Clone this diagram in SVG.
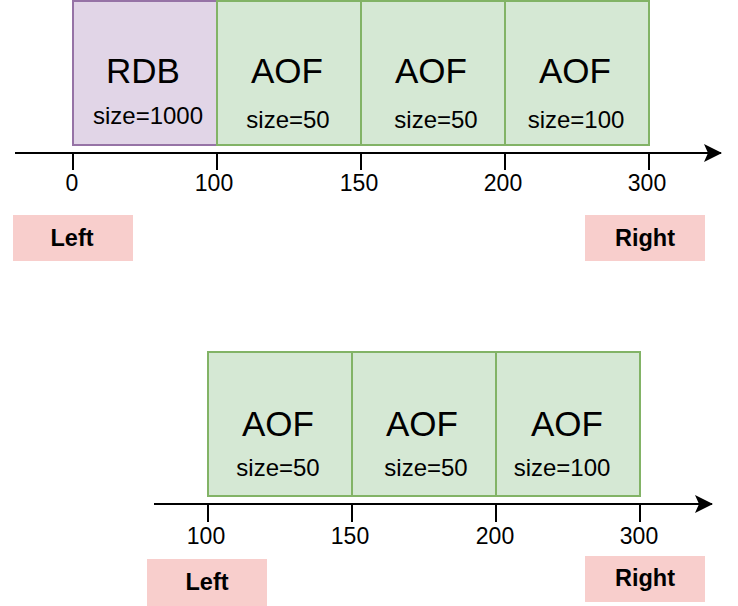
<svg xmlns="http://www.w3.org/2000/svg" width="738" height="606" viewBox="0 0 738 606">
<style>
.rdb{fill:#e1d5e7;stroke:#9673a6;stroke-width:2}
.aof{fill:#d5e8d4;stroke:#82b366;stroke-width:2}
.tag{fill:#f8cecc;stroke:none}
.big{font-family:"Liberation Sans",Arial,sans-serif;font-size:35px;fill:#000;text-anchor:middle}
.sm{font-family:"Liberation Sans",Arial,sans-serif;font-size:24px;fill:#000;text-anchor:middle}
.tk{font-family:"Liberation Sans",Arial,sans-serif;font-size:23px;fill:#000;text-anchor:middle}
.bold{font-family:"Liberation Sans",Arial,sans-serif;font-size:23.5px;font-weight:bold;fill:#000;text-anchor:middle}
.ax{stroke:#000;stroke-width:2;fill:none}
</style>
<defs>
<marker id="arr" viewBox="0 0 18 18" refX="17" refY="9" markerWidth="18" markerHeight="18" markerUnits="userSpaceOnUse" orient="auto">
<path d="M0,0 L18,9 L0,18 L4,9 Z" fill="#000"/>
</marker>
</defs>
<g id="connectors">
<line class="ax" x1="15" y1="153" x2="721" y2="153" marker-end="url(#arr)"/>
<line class="ax" x1="73" y1="153" x2="73" y2="170"/>
<line class="ax" x1="217" y1="153" x2="217" y2="170"/>
<line class="ax" x1="361" y1="153" x2="361" y2="170"/>
<line class="ax" x1="505" y1="153" x2="505" y2="170"/>
<line class="ax" x1="649" y1="153" x2="649" y2="170"/>
<line class="ax" x1="154" y1="504" x2="712" y2="504" marker-end="url(#arr)"/>
<line class="ax" x1="208" y1="504" x2="208" y2="522"/>
<line class="ax" x1="352" y1="504" x2="352" y2="522"/>
<line class="ax" x1="496" y1="504" x2="496" y2="522"/>
<line class="ax" x1="640" y1="504" x2="640" y2="522"/>
</g>
<g id="top-rdb">
<rect class="rdb" x="73" y="1" width="144" height="144"/>
<text class="big" x="143" y="83">RDB</text>
<text class="sm" x="148" y="124">size=1000</text>
</g>
<g id="top-aof1">
<rect class="aof" x="217" y="1" width="144" height="144"/>
<text class="big" x="287" y="83">AOF</text>
<text class="sm" x="288" y="128">size=50</text>
</g>
<g id="top-aof2">
<rect class="aof" x="361" y="1" width="144" height="144"/>
<text class="big" x="431" y="83">AOF</text>
<text class="sm" x="436" y="128">size=50</text>
</g>
<g id="top-aof3">
<rect class="aof" x="505" y="1" width="144" height="144"/>
<text class="big" x="575" y="83">AOF</text>
<text class="sm" x="576" y="128">size=100</text>
</g>
<g id="top-ticks">
<text class="tk" x="72" y="191">0</text>
<text class="tk" x="214" y="191">100</text>
<text class="tk" x="359" y="191">150</text>
<text class="tk" x="503" y="191">200</text>
<text class="tk" x="647" y="191">300</text>
</g>
<g id="top-left">
<rect class="tag" x="13" y="215" width="120" height="46"/>
<text class="bold" x="72" y="246">Left</text>
</g>
<g id="top-right">
<rect class="tag" x="585" y="215" width="120" height="46"/>
<text class="bold" x="645" y="246">Right</text>
</g>
<g id="bot-aof1">
<rect class="aof" x="208" y="352" width="144" height="144"/>
<text class="big" x="278" y="436">AOF</text>
<text class="sm" x="278" y="476">size=50</text>
</g>
<g id="bot-aof2">
<rect class="aof" x="352" y="352" width="144" height="144"/>
<text class="big" x="422" y="436">AOF</text>
<text class="sm" x="426" y="476">size=50</text>
</g>
<g id="bot-aof3">
<rect class="aof" x="496" y="352" width="144" height="144"/>
<text class="big" x="567" y="436">AOF</text>
<text class="sm" x="562" y="476">size=100</text>
</g>
<g id="bot-ticks">
<text class="tk" x="206" y="544">100</text>
<text class="tk" x="350" y="544">150</text>
<text class="tk" x="495" y="544">200</text>
<text class="tk" x="639" y="544">300</text>
</g>
<g id="bot-left">
<rect class="tag" x="147" y="559" width="120" height="47"/>
<text class="bold" x="207" y="590">Left</text>
</g>
<g id="bot-right">
<rect class="tag" x="585" y="556" width="120" height="46"/>
<text class="bold" x="645" y="586">Right</text>
</g>
</svg>
